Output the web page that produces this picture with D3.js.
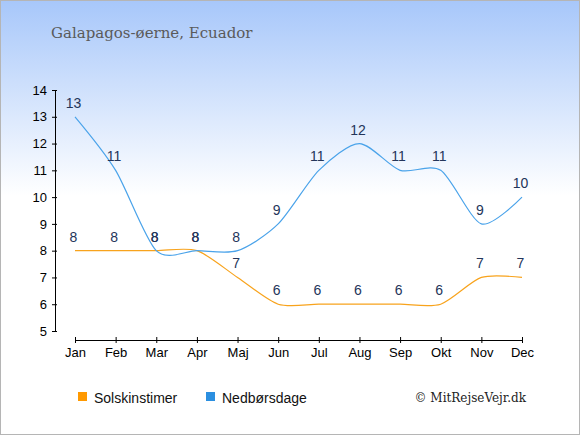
<!DOCTYPE html>
<html>
<head>
<meta charset="utf-8">
<script src="https://cdn.jsdelivr.net/npm/d3@7"></script>
<style>
    body { margin: 0; padding: 0; }
    #chart svg { display: block; }
</style>
</head>
<body>
<div id="chart"></div>
<script>
// chart data
var months = ["Jan", "Feb", "Mar", "Apr", "Maj", "Jun", "Jul", "Aug", "Sep", "Okt", "Nov", "Dec"];
var sunHours = [8, 8, 8, 8, 7, 6, 6, 6, 6, 6, 7, 7];
var rainDays = [13, 11, 8, 8, 8, 9, 11, 12, 11, 11, 9, 10];
var yTicks = [5, 6, 7, 8, 9, 10, 11, 12, 13, 14];
var seriesNames = ["Solskinstimer", "Nedbørsdage"];

window.onload = function () {
    var W = 580, H = 435;

    var svg = d3.select("#chart")
        .append("svg")
        .attr("width", W)
        .attr("height", H);

    // background gradient
    var grad = svg.append("defs").append("linearGradient")
        .attr("id", "bg")
        .attr("x1", 0).attr("y1", 0).attr("x2", 0).attr("y2", 1);
    grad.append("stop").attr("offset", "0%").attr("stop-color", "#a7c7fa");
    grad.append("stop").attr("offset", "45%").attr("stop-color", "#ffffff");
    grad.append("stop").attr("offset", "100%").attr("stop-color", "#ffffff");

    svg.append("rect")
        .attr("x", 0).attr("y", 0)
        .attr("width", W).attr("height", H)
        .attr("fill", "url(#bg)");

    // border
    svg.append("rect")
        .attr("x", 0.5).attr("y", 0.5)
        .attr("width", W - 1).attr("height", H - 1)
        .attr("fill", "none")
        .attr("stroke", "#b5b5b5");

    // title
    svg.append("text")
        .attr("x", 51)
        .attr("y", 38)
        .style("font-family", "DejaVu Serif, serif")
        .style("font-size", "15px")
        .style("fill", "#5a5a5a")
        .text("Galapagos-øerne, Ecuador");

    // scales
    var x = d3.scalePoint()
        .domain(months)
        .range([75, 522]);

    var y = d3.scaleLinear()
        .domain([5, 14])
        .range([331, 90]);

    // y axis
    var yAxis = svg.append("g")
        .attr("transform", "translate(55,0)")
        .call(d3.axisLeft(y).tickValues(yTicks).tickSize(3).tickSizeOuter(0));
    yAxis.select(".domain").attr("stroke", "#000");
    yAxis.selectAll(".tick line").attr("x1", 2);
    yAxis.selectAll("text")
        .style("font-family", "Liberation Sans, Arial, sans-serif")
        .style("font-size", "13px")
        .attr("x", -8)
        .style("fill", "#000");

    // x axis
    var xAxis = svg.append("g")
        .attr("transform", "translate(0,340)")
        .call(d3.axisBottom(x).tickSize(4).tickSizeOuter(0));
    xAxis.selectAll(".tick line").attr("y1", -3).attr("y2", 3);
    xAxis.selectAll("text")
        .attr("y", 8)
        .style("font-family", "Liberation Sans, Arial, sans-serif")
        .style("font-size", "13px")
        .style("fill", "#000");

    var line = d3.line()
        .x(function (d, i) { return x(months[i]); })
        .y(function (d) { return y(d); })
        .curve(d3.curveCardinal.tension(0.2));

    svg.append("path")
        .datum(sunHours)
        .attr("d", line)
        .attr("fill", "none")
        .attr("stroke", "#f8a31c")
        .attr("stroke-width", 1.2);

    svg.append("path")
        .datum(rainDays)
        .attr("d", line)
        .attr("fill", "none")
        .attr("stroke", "#4aa3ea")
        .attr("stroke-width", 1.2);

    // value labels
    function addLabels(values) {
        svg.append("g")
            .selectAll("text")
            .data(values)
            .enter()
            .append("text")
            .attr("x", function (d, i) { return x(months[i]) - 1.5; })
            .attr("y", function (d) { return y(d) - 9; })
            .attr("text-anchor", "middle")
            .style("font-family", "Liberation Sans, Arial, sans-serif")
            .style("font-size", "14px")
            .style("fill", "#24355a")
            .text(function (d) { return d; });
    }
    addLabels(sunHours);
    addLabels(rainDays);

    // legend
    var legendColors = ["#ff9900", "#2b8fe0"];
    var legendX = [78, 206];
    seriesNames.forEach(function (name, i) {
        svg.append("rect")
            .attr("x", legendX[i])
            .attr("y", 392)
            .attr("width", 9)
            .attr("height", 9)
            .attr("fill", legendColors[i]);
        svg.append("text")
            .attr("x", legendX[i] + 16)
            .attr("y", 403)
            .style("font-family", "Liberation Sans, Arial, sans-serif")
            .style("font-size", "14px")
            .style("fill", "#111")
            .text(name);
    });

    svg.append("text")
        .attr("x", 526)
        .attr("y", 402)
        .attr("text-anchor", "end")
        .style("font-family", "DejaVu Serif, serif")
        .style("font-size", "12px")
        .style("fill", "#222")
        .text("© MitRejseVejr.dk");
};
</script>
</body>
</html>
